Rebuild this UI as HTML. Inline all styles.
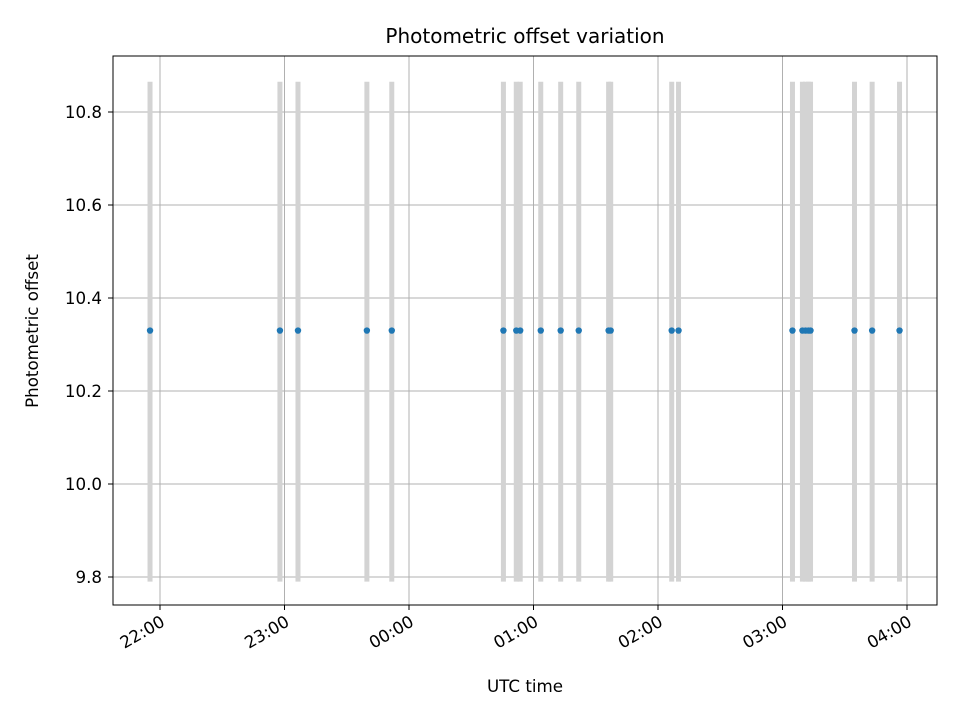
<!DOCTYPE html>
<html><head><meta charset="utf-8"><style>
body{margin:0;background:#fff;font-family:"Liberation Sans","DejaVu Sans",sans-serif}
svg text{font-family:"DejaVu Sans","Liberation Sans",sans-serif;fill:#000}
</style></head><body>
<svg id="chart" width="960" height="720">
<rect width="960" height="720" fill="#fff"/>
<g id="grid"></g><g id="bars"></g><g id="pts"></g><g id="axes"></g>
<rect x="113" y="56" width="824" height="549" fill="none" stroke="#000" stroke-width="1"/>
<text x="525" y="43" text-anchor="middle" font-size="20">Photometric offset variation</text>
<text x="525" y="692" text-anchor="middle" font-size="16.7">UTC time</text>
<text transform="translate(38,331) rotate(-90)" text-anchor="middle" font-size="16.7">Photometric offset</text>
</svg>
<script>
// minutes relative to 22:00
const times=[-4.8,57.8,66.5,99.7,111.7,165.5,171.7,173.6,183.5,193.1,201.8,216.2,217.2,246.6,249.9,304.8,309.6,311.1,312.5,313.5,334.7,343.2,356.4];
const values=[10.33,10.33,10.33,10.33,10.33,10.33,10.33,10.33,10.33,10.33,10.33,10.33,10.33,10.33,10.33,10.33,10.33,10.33,10.33,10.33,10.33,10.33,10.33];
const errLow=[9.79];
const errHigh=[10.865];
const yTicks=[9.8,10.0,10.2,10.4,10.6,10.8];
const xTickMinutes=[0,60,120,180,240,300,360];
const xTickLabels=["22:00","23:00","00:00","01:00","02:00","03:00","04:00"];
const NS="http://www.w3.org/2000/svg";
const X=m=>160+m*(747/360);
const Y=v=>577-(v-9.8)*465;
function mk(p,t,a){const e=document.createElementNS(NS,t);for(const k in a)e.setAttribute(k,a[k]);p.appendChild(e);return e;}
const G=document.getElementById('grid'),B=document.getElementById('bars'),P=document.getElementById('pts'),A=document.getElementById('axes');
yTicks.forEach(v=>{
 const y=Y(v);
 const l=mk(G,'line',{x1:113,x2:937,y1:y,y2:y,stroke:'#b0b0b0','stroke-width':1});
 
 
 mk(A,'line',{x1:108,x2:113,y1:y,y2:y,stroke:'#000'});
 const t=mk(A,'text',{x:102,y:y+6,'text-anchor':'end','font-size':16.7});
 t.textContent=v.toFixed(1);
 
 
});
xTickMinutes.forEach((m,i)=>{
 const x=X(m);
 const l=mk(G,'line',{x1:x,x2:x,y1:56,y2:605,stroke:'#b0b0b0','stroke-width':1});
 
 
 mk(A,'line',{x1:x,x2:x,y1:605,y2:610,stroke:'#000'});
 const t=mk(A,'text',{transform:`translate(${x+6},${625}) rotate(-30)`,'text-anchor':'end','font-size':16.7});
 t.textContent=xTickLabels[i];
 
 
});
times.forEach((m,i)=>{
 const x=X(m);
 const b=mk(B,'line',{x1:x,x2:x,y1:Y(errLow[0]),y2:Y(errHigh[0]),stroke:'#d3d3d3','stroke-width':5});
 
 
 const c=mk(P,'circle',{cx:x,cy:Y(values[i]),r:3.2,fill:'#1f77b4'});
 
 
});
</script>
</body></html>
